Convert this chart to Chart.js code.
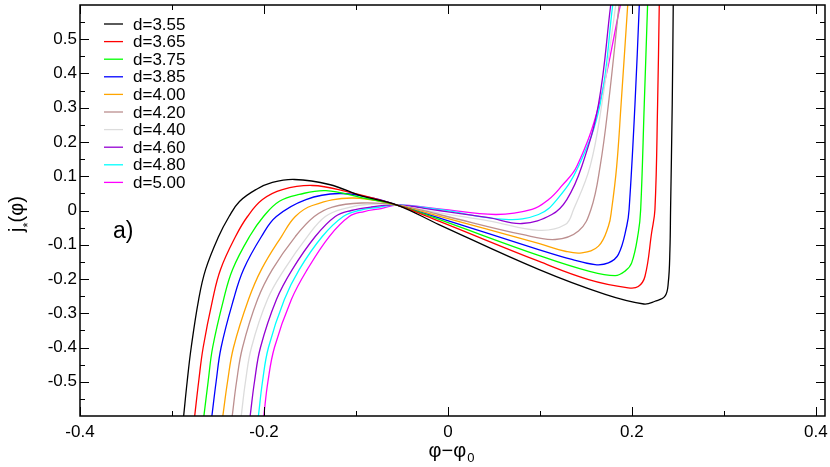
<!DOCTYPE html>
<html>
<head>
<meta charset="utf-8">
<script src="https://cdn.jsdelivr.net/npm/chart.js@4.4.1/dist/chart.umd.min.js"></script>
<style>
  html, body { margin: 0; padding: 0; background: #fff; }
</style>
</head>
<body>
<canvas id="mycanvas" width="830" height="467"></canvas>
<script>
var FONT = "'Liberation Sans', Arial, Helvetica, sans-serif";

var labels = ['d=3.55', 'd=3.65', 'd=3.75', 'd=3.85', 'd=4.00', 'd=4.20', 'd=4.40', 'd=4.60', 'd=4.80', 'd=5.00'];
var colors = ['#000000', '#ff0000', '#00ff00', '#0000ff', '#ffa500', '#bc8f8f', '#dcdcdc', '#9400d3', '#00ffff', '#ff00ff'];

// values: phi - phi0 and j*(phi)
var x355 = [-0.2873, -0.2835, -0.2791, -0.2710, -0.2634, -0.2493, -0.2379, -0.2266, -0.2085, -0.1908, -0.1669, -0.129, -0.0932, -0.0553, -0.0098, 0.0986, 0.171, 0.213, 0.2251, 0.236, 0.2396, 0.2414, 0.2421, 0.2439, 0.245];
var y355 = [-0.6, -0.5, -0.4, -0.26, -0.172, -0.076, -0.0175, 0.0263, 0.0613, 0.0818, 0.0905, 0.0759, 0.042, 0.016, -0.041, -0.172, -0.245, -0.273, -0.265, -0.25, -0.211, -0.114, 0.003, 0.31, 0.6];

var x365 = [-0.2753, -0.2710, -0.2661, -0.2558, -0.2472, -0.2309, -0.2179, -0.2016, -0.1799, -0.1474, -0.1109, -0.0553, -0.0098, 0.0986, 0.153, 0.196, 0.207, 0.2143, 0.2215, 0.2251, 0.228, 0.2298];
var y365 = [-0.6, -0.5, -0.4, -0.26, -0.172, -0.076, -0.0175, 0.032, 0.061, 0.073, 0.056, 0.016, -0.031, -0.148, -0.2015, -0.2257, -0.222, -0.192, -0.065, 0.003, 0.31, 0.6];

var x375 = [-0.2653, -0.2607, -0.2558, -0.2439, -0.2341, -0.2157, -0.2005, -0.1832, -0.1615, -0.1326, -0.0932, -0.0553, -0.0098, 0.0986, 0.153, 0.1818, 0.1926, 0.1998, 0.207, 0.2096, 0.2135, 0.2171];
var y375 = [-0.6, -0.5, -0.4, -0.26, -0.172, -0.076, -0.0175, 0.027, 0.047, 0.058, 0.037, 0.016, -0.026, -0.131, -0.177, -0.19, -0.177, -0.153, -0.065, 0.003, 0.31, 0.6];

var x385 = [-0.2566, -0.2520, -0.2466, -0.2331, -0.2222, -0.2027, -0.1865, -0.1543, -0.1182, -0.0824, -0.0553, -0.0098, 0.0986, 0.1348, 0.160, 0.1745, 0.1854, 0.1944, 0.197, 0.2034, 0.2081];
var y385 = [-0.6, -0.5, -0.4, -0.26, -0.172, -0.076, -0.0175, 0.032, 0.0496, 0.037, 0.016, -0.0214, -0.114, -0.143, -0.158, -0.153, -0.128, -0.046, 0.003, 0.31, 0.6];

var x400 = [-0.2447, -0.2396, -0.2331, -0.2168, -0.2027, -0.1810, -0.1659, -0.1474, -0.1041, -0.0553, -0.0098, 0.0986, 0.1276, 0.1456, 0.1637, 0.1745, 0.178, 0.1835, 0.1883, 0.1955];
var y400 = [-0.6, -0.5, -0.4, -0.26, -0.172, -0.076, -0.0175, 0.0146, 0.0365, 0.016, -0.0165, -0.096, -0.119, -0.1236, -0.104, -0.046, 0.003, 0.129, 0.31, 0.6];

var x420 = [-0.2345, -0.2298, -0.2233, -0.2070, -0.1908, -0.1659, -0.1453, -0.1257, -0.0943, -0.0553, -0.0098, 0.0806, 0.1167, 0.142, 0.1555, 0.1655, 0.1745, 0.1861];
var y420 = [-0.6, -0.5, -0.4, -0.26, -0.172, -0.076, -0.0175, 0.0102, 0.0219, 0.016, -0.0117, -0.07, -0.0847, -0.06, 0.003, 0.129, 0.31, 0.6];

var x440 = [-0.2247, -0.2201, -0.2136, -0.1962, -0.1778, -0.1528, -0.1333, -0.1127, -0.0835, -0.0553, -0.0098, 0.0444, 0.0986, 0.1276, 0.1366, 0.1546, 0.1673, 0.1825];
var y440 = [-0.6, -0.5, -0.4, -0.26, -0.172, -0.076, -0.0175, 0.0058, 0.019, 0.016, -0.0068, -0.03, -0.058, -0.041, 0.003, 0.129, 0.31, 0.6];

var x460 = [-0.2150, -0.2103, -0.2038, -0.1864, -0.1691, -0.1442, -0.1225, -0.1051, -0.0835, -0.0553, -0.0098, 0.0444, 0.0806, 0.113, 0.1293, 0.1456, 0.1637, 0.177];
var y460 = [-0.6, -0.5, -0.4, -0.26, -0.172, -0.076, -0.0175, 0, 0.0102, 0.016, 0, -0.021, -0.038, -0.0117, 0.032, 0.129, 0.31, 0.6];

var x480 = [-0.2060, -0.2016, -0.1951, -0.1778, -0.1615, -0.1366, -0.1138, -0.0965, -0.0770, -0.0553, -0.0098, 0.0625, 0.0986, 0.1185, 0.142, 0.1655, 0.1792];
var y480 = [-0.6, -0.5, -0.4, -0.26, -0.172, -0.076, -0.0175, 0, 0.0088, 0.016, 0.003, -0.026, -0.0117, 0.032, 0.129, 0.31, 0.6];

var x500 = [-0.2002, -0.1957, -0.1886, -0.1702, -0.1528, -0.1290, -0.1073, -0.0911, -0.0726, -0.0553, -0.0098, 0.0517, 0.0914, 0.1095, 0.1235, 0.1402, 0.1644, 0.1875];
var y500 = [-0.6, -0.5, -0.4, -0.26, -0.172, -0.076, -0.0175, -0.003, 0.0058, 0.016, 0.005, -0.0117, 0.003, 0.032, 0.071, 0.129, 0.31, 0.6];

var xTicks = [-0.4, -0.2, 0, 0.2, 0.4];
var xTickLabels = ['-0.4', '-0.2', '0', '0.2', '0.4'];
var xMinor = [-0.3, -0.1, 0.1, 0.3];
var yTicks = [-0.5, -0.4, -0.3, -0.2, -0.1, 0, 0.1, 0.2, 0.3, 0.4, 0.5];
var yTickLabels = ['-0.5', '-0.4', '-0.3', '-0.2', '-0.1', '0', '0.1', '0.2', '0.3', '0.4', '0.5'];
var yMinor = [-0.55, -0.45, -0.35, -0.25, -0.15, -0.05, 0.05, 0.15, 0.25, 0.35, 0.45, 0.55];

var curvesX = [x355, x365, x375, x385, x400, x420, x440, x460, x480, x500];
var curvesY = [y355, y365, y375, y385, y400, y420, y440, y460, y480, y500];

var datasets = [];
for (var i = 0; i < labels.length; i++) {
  var pts = [];
  for (var j = 0; j < curvesX[i].length; j++) {
    pts.push({ x: curvesX[i][j], y: curvesY[i][j] });
  }
  datasets.push({
    label: labels[i],
    data: pts,
    borderColor: colors[i],
    backgroundColor: colors[i],
    borderWidth: 1.3,
    pointRadius: 0,
    fill: false,
    tension: 0.4
  });
}

// frame, inward ticks, legend and texts
var decorations = {
  id: 'decorations',
  afterDatasetsDraw: function (chart) {
    var ctx = chart.ctx;
    var a = chart.chartArea;
    var xs = chart.scales.x;
    var ys = chart.scales.y;
    ctx.save();
    ctx.strokeStyle = '#000';
    ctx.lineWidth = 1;

    function xTick(v, len) {
      var p = Math.round(xs.getPixelForValue(v)) + 0.5;
      ctx.beginPath();
      ctx.moveTo(p, a.bottom); ctx.lineTo(p, a.bottom - len);
      ctx.moveTo(p, a.top); ctx.lineTo(p, a.top + len);
      ctx.stroke();
    }
    function yTick(v, len) {
      var p = Math.round(ys.getPixelForValue(v)) + 0.5;
      ctx.beginPath();
      ctx.moveTo(a.left, p); ctx.lineTo(a.left + len, p);
      ctx.moveTo(a.right, p); ctx.lineTo(a.right - len, p);
      ctx.stroke();
    }
    xTicks.forEach(function (v) { xTick(v, 9); });
    xMinor.forEach(function (v) { xTick(v, 5); });
    yTicks.forEach(function (v) { yTick(v, 9); });
    yMinor.forEach(function (v) { yTick(v, 5); });

    ctx.lineWidth = 1.5;
    ctx.strokeRect(a.left, a.top, a.right - a.left, a.bottom - a.top);

    // legend
    ctx.font = '17px ' + FONT;
    ctx.textBaseline = 'middle';
    ctx.textAlign = 'left';
    for (var i = 0; i < labels.length; i++) {
      var ly = 24 + i * 17.6;
      ctx.strokeStyle = colors[i];
      ctx.lineWidth = 1.3;
      ctx.beginPath();
      ctx.moveTo(104, ly);
      ctx.lineTo(123, ly);
      ctx.stroke();
      ctx.fillStyle = '#000';
      ctx.fillText(labels[i], 133, ly + 1);
    }

    // panel letter
    ctx.font = '23px ' + FONT;
    ctx.textBaseline = 'alphabetic';
    ctx.fillText('a)', 113, 238);

    // x title: phi - phi_0
    ctx.font = '20px ' + FONT;
    var main = '\u03c6\u2212\u03c6';
    var wMain = ctx.measureText(main).width;
    ctx.font = '13px ' + FONT;
    var wSub = ctx.measureText('0').width;
    var sx = 451 - (wMain + wSub) / 2;
    ctx.font = '20px ' + FONT;
    ctx.fillText(main, sx, 457);
    ctx.font = '13px ' + FONT;
    ctx.fillText('0', sx + wMain + 1, 462);

    // y title: j*(phi)
    ctx.translate(18, 214);
    ctx.rotate(-Math.PI / 2);
    ctx.font = '20px ' + FONT;
    var w1 = ctx.measureText('j').width;
    var w3 = ctx.measureText('(\u03c6)').width;
    ctx.font = '13px ' + FONT;
    var w2 = ctx.measureText('*').width;
    var tx = -(w1 + w2 + w3) / 2;
    ctx.font = '20px ' + FONT;
    ctx.fillText('j', tx, 5);
    ctx.font = '13px ' + FONT;
    ctx.fillText('*', tx + w1, 14);
    ctx.font = '20px ' + FONT;
    ctx.fillText('(\u03c6)', tx + w1 + w2, 5);
    ctx.restore();
  }
};

var ctx = document.getElementById('mycanvas');

var chart = new Chart(ctx, {
  type: 'line',
  data: { datasets: datasets },
  options: {
    responsive: false,
    animation: false,
    layout: { padding: { top: 5, right: 5, left: 0, bottom: 0 } },
    plugins: {
      legend: { display: false },
      tooltip: { enabled: false }
    },
    scales: {
      x: {
        type: 'linear',
        min: -0.4,
        max: 0.41,
        grid: { display: false, drawTicks: false },
        border: { display: false },
        afterBuildTicks: function (scale) {
          scale.ticks = xTicks.map(function (v) { return { value: v }; });
        },
        afterFit: function (scale) {
          scale.height = 51;
          scale.paddingLeft = 0;
          scale.paddingRight = 0;
        },
        ticks: {
          color: '#000',
          font: { family: FONT, size: 17 },
          padding: 6,
          maxRotation: 0,
          autoSkip: false,
          callback: function (v) { return xTickLabels[xTicks.indexOf(v)]; }
        }
      },
      y: {
        type: 'linear',
        min: -0.6,
        max: 0.6,
        grid: { display: false, drawTicks: false },
        border: { display: false },
        afterBuildTicks: function (scale) {
          scale.ticks = yTicks.map(function (v) { return { value: v }; });
        },
        afterFit: function (scale) {
          scale.width = 80;
          scale.paddingTop = 0;
          scale.paddingBottom = 0;
        },
        ticks: {
          color: '#000',
          font: { family: FONT, size: 17 },
          padding: 3,
          autoSkip: false,
          callback: function (v) { return yTickLabels[yTicks.indexOf(v)]; }
        }
      }
    }
  },
  plugins: [decorations]
});
</script>
</body>
</html>
